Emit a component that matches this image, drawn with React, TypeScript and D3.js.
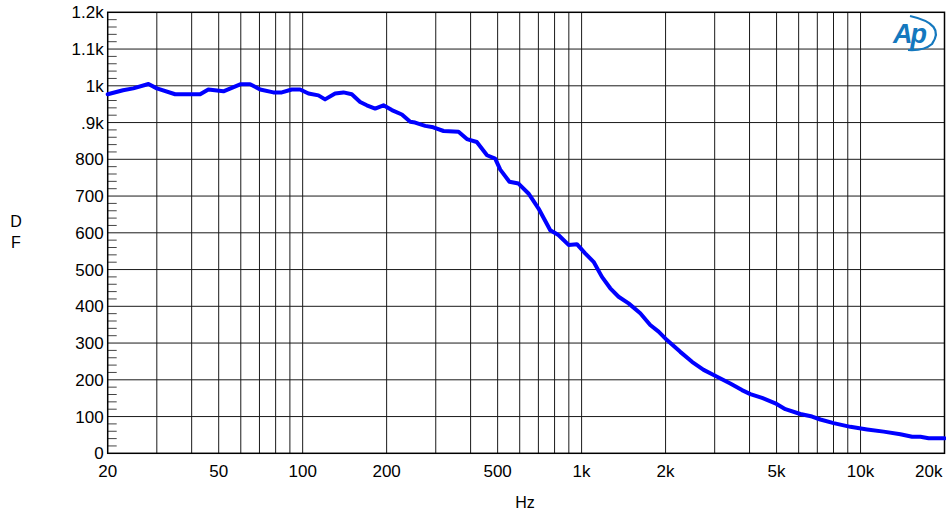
import React from "react";
import * as d3 from "d3";

// Damping factor vs frequency
const freqs = [
  20, 22.7, 24.7, 28.0, 30.0, 34.9, 42.9, 45.9, 52.0, 59.7, 64.8, 70.4, 78.5, 84.2, 91.4, 97.9,
  104.9, 113.9, 120.3, 130.7, 140, 150, 160.7, 169.8, 181.9, 194.8, 208.8, 226.8, 243, 253, 275,
  294, 320, 362, 388, 421, 458, 490, 511, 551, 594, 645, 701, 772, 826, 898, 962, 1030, 1104,
  1183, 1267, 1357, 1474, 1623, 1762, 1888, 2023, 2258, 2488, 2738, 2974, 3412, 3758, 4027,
  4435, 4950, 5377, 6084, 6702, 7177, 8010, 9195, 10558, 12104, 13895, 15306, 16390, 17550, 20000,
];
const dfValues = [
  977, 988, 993, 1005, 993, 977, 977, 990, 985, 1004, 1004, 990, 982, 982, 990, 990,
  979, 974, 963, 979, 982, 977, 956, 947, 938, 947, 934, 922, 902, 900, 891,
  887, 877, 875, 855, 847, 811, 802, 772, 739, 734, 707, 666, 607, 594, 567, 569, 544, 521,
  480, 449, 426, 408, 381, 349, 331, 308, 276, 249, 227, 213, 190, 172, 161,
  151, 136, 120, 107, 100, 92, 82, 72, 65, 59, 52, 45, 45, 41, 41,
];

const xTickValues = [20, 50, 100, 200, 500, 1000, 2000, 5000, 10000, 20000];
const xTickLabels = ["20", "50", "100", "200", "500", "1k", "2k", "5k", "10k", "20k"];
const yTickValues = [0, 100, 200, 300, 400, 500, 600, 700, 800, 900, 1000, 1100, 1200];
const yTickLabels = ["0", "100", "200", "300", "400", "500", "600", "700", "800", ".9k", "1k", "1.1k", "1.2k"];

const W = 946;
const H = 515;
const left = 107.7;
const right = 944.5;
const top = 12.3;
const bottom = 453.3;

export default function App() {
  const x = d3.scaleLog().domain([20, 20000]).range([left, right]);
  const y = d3.scaleLinear().domain([0, 1200]).range([bottom, top]);

  // vertical grid at every 1-2-...-9 step of each decade
  const vGrid: number[] = [];
  for (let dec = 10; dec <= 10000; dec *= 10) {
    for (let m = 1; m <= 9; m++) {
      const f = m * dec;
      if (f > 20 && f < 20000) vGrid.push(f);
    }
  }
  const minorY: number[] = [];
  for (let v = 20; v < 1200; v += 20) if (v % 100 !== 0) minorY.push(v);

  const pts: [number, number][] = freqs.map((f, i) => [x(f), y(dfValues[i])]);
  const line = d3.line().curve(d3.curveLinear)(pts) || "";

  const font = "'Liberation Sans', Arial, sans-serif";
  const lastIdx = xTickValues.length - 1;

  return (
    <svg width={W} height={H} style={{ position: "absolute", left: 0, top: 0 }} fontFamily={font}>
      <rect width={W} height={H} fill="#fff" />
      {vGrid.map((f) => (
        <line key={"v" + f} x1={x(f)} x2={x(f)} y1={top} y2={bottom} stroke="#1a1a1a" strokeWidth={1} />
      ))}
      {yTickValues.slice(1, -1).map((v) => (
        <line key={"h" + v} x1={left} x2={right} y1={y(v)} y2={y(v)} stroke="#1a1a1a" strokeWidth={1} />
      ))}
      {minorY.map((v) => (
        <line key={"m" + v} x1={left} x2={left + 9} y1={y(v)} y2={y(v)} stroke="#444" strokeWidth={1} />
      ))}
      <rect x={left} y={top} width={right - left} height={bottom - top} fill="none" stroke="#000" strokeWidth={1.5} />
      <path d={line} fill="none" stroke="#0000ff" strokeWidth={4} strokeLinejoin="round" strokeLinecap="round" />
      {yTickValues.map((v, i) => (
        <text key={"yl" + v} x={left - 4} y={y(v)} dy="0.36em" textAnchor="end" fontSize={17} fill="#000">
          {yTickLabels[i]}
        </text>
      ))}
      {xTickValues.map((f, i) => (
        <text
          key={"xl" + f}
          x={i === lastIdx ? x(f) - 2 : x(f)}
          y={477}
          textAnchor={i === lastIdx ? "end" : "middle"}
          fontSize={17}
          fill="#000"
        >
          {xTickLabels[i]}
        </text>
      ))}
      <text x={525} y={508} textAnchor="middle" fontSize={16} fill="#000">Hz</text>
      <text x={16} y={227} textAnchor="middle" fontSize={16} fill="#000">D</text>
      <text x={16} y={248} textAnchor="middle" fontSize={16} fill="#000">F</text>
      <g>
        <text x={893} y={43} fontSize={27} fontStyle="italic" fontWeight="bold" fill="#1478be" fontFamily={font} letterSpacing={-2}>
          Ap
        </text>
        <path d="M 910 16 Q 946 24 932 44 Q 924 51 908 50" fill="none" stroke="#1478be" strokeWidth={2.2} />
      </g>
    </svg>
  );
}
